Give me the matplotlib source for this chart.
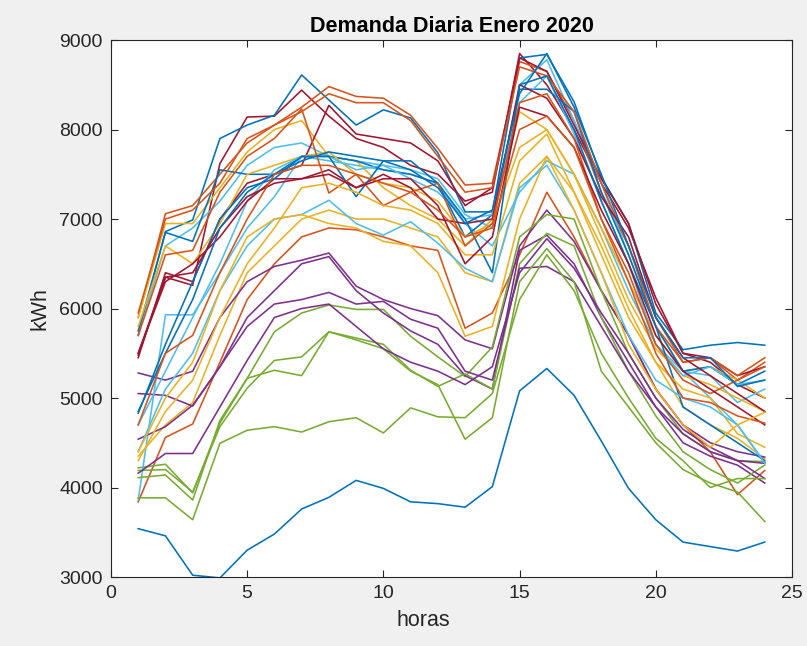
import matplotlib
matplotlib.use("Agg")
import matplotlib.pyplot as plt

plt.rcParams['font.family'] = ['Liberation Sans', 'DejaVu Sans']

hours = list(range(1, 25))

# Daily load curves for January 2020 (kWh per hour), one list per day
d01 = [3540, 3460, 3020, 2990, 3300, 3480, 3760, 3890, 4080, 3990, 3840, 3820, 3780, 4010, 5080, 5330, 5030, 4520, 3990, 3640, 3390, 3340, 3290, 3390]
d02 = [3840, 4560, 4710, 5400, 6100, 6500, 6800, 6900, 6880, 6800, 6700, 6650, 5780, 5950, 6600, 7300, 6800, 6200, 5700, 5100, 4700, 4400, 3920, 4190]
d03 = [4350, 4700, 4950, 5700, 6400, 6700, 7000, 7100, 7000, 7000, 6900, 6800, 6400, 6300, 7400, 7700, 7300, 6700, 6000, 5400, 4900, 4700, 4550, 4320]
d04 = [5280, 5200, 5300, 5900, 6300, 6470, 6540, 6620, 6250, 6100, 6000, 5920, 5650, 5550, 6700, 7100, 6750, 6200, 5700, 5100, 4700, 4500, 4400, 4340]
d05 = [4220, 4260, 3940, 4720, 5220, 5740, 5950, 6040, 5990, 5990, 5690, 5460, 5240, 5570, 6800, 7050, 7000, 6200, 5500, 5000, 4600, 4400, 4300, 4290]
d06 = [3860, 5930, 5930, 6400, 6900, 7250, 7700, 7650, 7600, 7550, 7500, 7400, 6950, 6700, 7300, 7650, 7500, 6900, 6200, 5600, 5300, 5000, 4700, 4280]
d07 = [5480, 6350, 6260, 7620, 8140, 8150, 8440, 8150, 7900, 7800, 7600, 7500, 7200, 7300, 8850, 8500, 8000, 7400, 6900, 6120, 5500, 5400, 5150, 5000]
d08 = [5700, 6860, 6990, 7900, 8050, 8160, 8610, 8330, 8050, 8220, 8130, 7740, 7080, 7080, 8800, 8840, 8310, 7470, 6950, 5950, 5540, 5590, 5620, 5590]
d09 = [5900, 7060, 7150, 7500, 7850, 8050, 8250, 8480, 8370, 8350, 8160, 7790, 7380, 7400, 8760, 8650, 8100, 7300, 6700, 5900, 5400, 5450, 5200, 5400]
d10 = [5900, 6950, 6950, 7350, 7750, 8000, 8100, 7700, 7650, 7350, 7150, 7000, 6700, 7000, 8200, 8000, 7500, 6900, 6300, 5700, 5300, 5350, 5200, 5000]
d11 = [5050, 5030, 4910, 5350, 5900, 6200, 6500, 6580, 6200, 5950, 5750, 5600, 5250, 5100, 6650, 6820, 6500, 5900, 5400, 4900, 4500, 4350, 4250, 4050]
d12 = [4190, 4200, 3950, 4680, 5110, 5420, 5460, 5740, 5670, 5600, 5310, 5130, 5270, 5100, 6500, 6840, 6700, 5900, 5300, 4800, 4400, 4200, 4050, 4250]
d13 = [5700, 6700, 6900, 7200, 7600, 7800, 7850, 7700, 7650, 7600, 7550, 7450, 7050, 6900, 8500, 8780, 8100, 7400, 6600, 5800, 5300, 5250, 4950, 5100]
d14 = [5450, 6400, 6300, 7000, 7400, 7500, 7600, 8270, 7950, 7900, 7850, 7650, 7150, 7350, 8800, 8650, 8050, 7450, 6950, 6050, 5500, 5450, 5250, 5350]
d15 = [5750, 6850, 6750, 7550, 7500, 7500, 7700, 7700, 7650, 7550, 7500, 7400, 6800, 7050, 8450, 8450, 8200, 7300, 6600, 5800, 5300, 5350, 5150, 5300]
d16 = [5950, 7000, 7100, 7400, 7900, 8050, 8200, 8400, 8300, 8300, 8100, 7700, 7300, 7350, 8700, 8600, 8200, 7400, 6700, 5800, 5400, 5450, 5250, 5450]
d17 = [5800, 6700, 6500, 6950, 7500, 7600, 7700, 7750, 7500, 7400, 7350, 7200, 6800, 6950, 7800, 8000, 7500, 6800, 6100, 5550, 5250, 5150, 5000, 4850]
d18 = [4540, 4680, 4920, 5350, 5800, 6050, 6100, 6180, 6050, 6080, 5880, 5780, 5300, 5200, 6450, 6470, 6300, 5800, 5300, 4900, 4600, 4400, 4300, 4100]
d19 = [4110, 4140, 3860, 4750, 5220, 5310, 5250, 5740, 5650, 5550, 5300, 5150, 4540, 4780, 6300, 6670, 6300, 5300, 4900, 4500, 4200, 4050, 3950, 3620]
d20 = [4700, 5300, 5900, 6500, 7200, 7550, 7700, 7700, 7550, 7600, 7450, 7300, 7000, 7050, 8300, 8600, 7950, 7200, 6500, 5600, 5250, 5350, 5150, 5200]
d21 = [5500, 6300, 6500, 6800, 7200, 7450, 7450, 7550, 7350, 7500, 7350, 7000, 6950, 7000, 8500, 8350, 7900, 7250, 6800, 5900, 5450, 5250, 5050, 4850]
d22 = [4830, 5600, 6300, 7000, 7350, 7450, 7700, 7700, 7250, 7650, 7650, 7400, 7000, 6400, 8500, 8600, 8000, 7200, 6500, 5800, 4900, 4700, 4500, 4300]
d23 = [5700, 6600, 6650, 7300, 7700, 7900, 8230, 7290, 7500, 7150, 7300, 7400, 6700, 6950, 8300, 8400, 7900, 7000, 6400, 5600, 5200, 5050, 5200, 5350]
d24 = [4300, 4850, 5200, 5900, 6500, 6900, 7350, 7400, 7300, 7150, 7100, 6950, 6600, 6600, 7650, 7950, 7300, 6600, 5900, 5400, 5100, 5000, 4600, 4450]
d25 = [4160, 4380, 4380, 4900, 5420, 5900, 6000, 6050, 5800, 5550, 5400, 5300, 5150, 5350, 6400, 6780, 6450, 5950, 5500, 5000, 4650, 4450, 4300, 4270]
d26 = [3885, 3885, 3640, 4494, 4640, 4680, 4620, 4735, 4780, 4610, 4890, 4790, 4780, 5050, 6100, 6600, 6200, 5500, 5000, 4550, 4300, 4000, 4100, 4100]
d27 = [4400, 5100, 5500, 6200, 6700, 7000, 7050, 7210, 6950, 6820, 6970, 6730, 6450, 6300, 7350, 7600, 7100, 6400, 5700, 5200, 5000, 4900, 4700, 4270]
d28 = [5500, 6350, 6400, 6900, 7250, 7400, 7450, 7500, 7350, 7450, 7450, 7150, 6500, 6800, 8250, 8150, 7800, 7100, 6500, 5700, 5300, 5100, 4900, 4700]
d29 = [4850, 5500, 6100, 6900, 7300, 7500, 7650, 7750, 7700, 7650, 7550, 7350, 6950, 7100, 8400, 8850, 8250, 7500, 6700, 5900, 5450, 5450, 5130, 5200]
d30 = [4700, 5500, 5700, 6400, 7000, 7500, 7600, 7600, 7500, 7400, 7300, 7100, 6800, 6900, 8000, 8150, 7800, 7000, 6300, 5500, 5000, 4950, 4800, 4720]
d31 = [4400, 5000, 5400, 6200, 6800, 7000, 7050, 6950, 6900, 6750, 6700, 6400, 5690, 5800, 7000, 7700, 7100, 6400, 5600, 5100, 4700, 4450, 4700, 4840]

days = [d01, d02, d03, d04, d05, d06, d07, d08, d09, d10, d11, d12, d13, d14, d15, d16,
        d17, d18, d19, d20, d21, d22, d23, d24, d25, d26, d27, d28, d29, d30, d31]

# MATLAB default line colour order
palette = ['#0072BD', '#D95319', '#EDB120', '#7E2F8E', '#77AC30', '#4DBEEE', '#A2142F']

fig = plt.figure(figsize=(8.07, 6.46), dpi=100, facecolor='#f0f0f0')
ax = fig.add_axes([0.1375, 0.1068, 0.8439, 0.8312])
ax.set_facecolor('white')

for i, d in enumerate(days):
    ax.plot(hours, d, color=palette[i % len(palette)], linewidth=1.15)

ax.set_xlim(0, 25)
ax.set_ylim(3000, 9000)
ax.set_xticks([0, 5, 10, 15, 20, 25])
ax.set_yticks([3000, 4000, 5000, 6000, 7000, 8000, 9000])

edge = '#262626'
for s in ax.spines.values():
    s.set_color(edge)
    s.set_linewidth(0.8)
ax.tick_params(direction='in', length=5, width=0.8, colors=edge, labelsize=14,
               top=True, right=True, pad=6)

ax.set_title('Demanda Diaria Enero 2020', fontsize=15.5, fontweight='bold', color='black', pad=6)
ax.set_xlabel('horas', fontsize=15.5, color=edge, labelpad=3)
ax.xaxis.set_label_coords(0.458, -0.062)
ax.set_ylabel('kWh', fontsize=15.5, color=edge, labelpad=6)

fig.savefig('out.png', dpi=100, facecolor=fig.get_facecolor())
